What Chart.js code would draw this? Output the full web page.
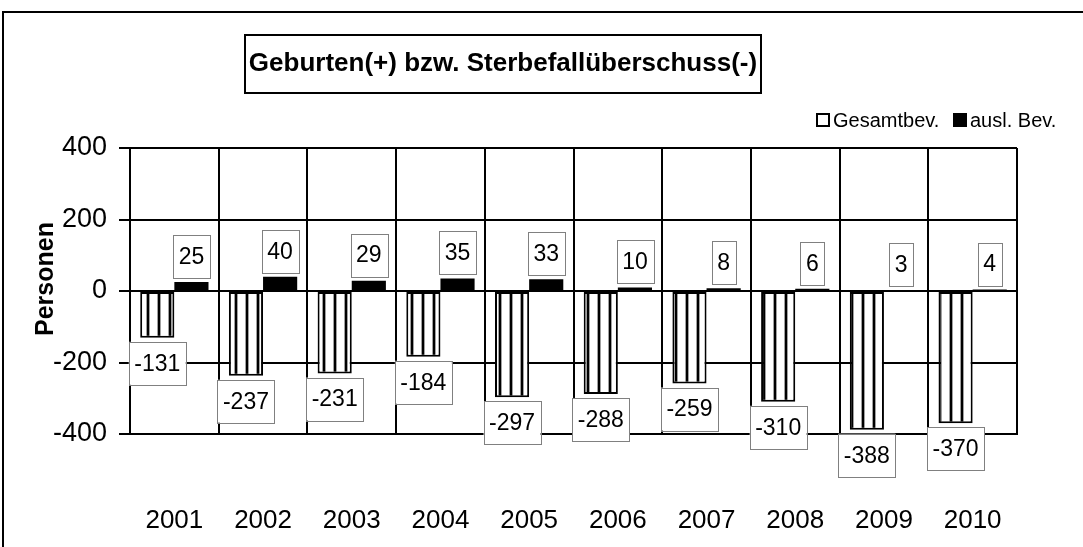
<!DOCTYPE html>
<html>
<head>
<meta charset="utf-8">
<script src="https://cdn.jsdelivr.net/npm/chart.js@4.4.1/dist/chart.umd.min.js"></script>
<style>
  html, body { margin: 0; padding: 0; background: #fff; }
  #wrap { width: 1083px; height: 547px; position: relative; }
</style>
</head>
<body>
<div id="wrap"><canvas id="c" width="1083" height="547"></canvas></div>
<script>
const categories = ['2001','2002','2003','2004','2005','2006','2007','2008','2009','2010'];
const gesamtValues = [-131, -237, -231, -184, -297, -288, -259, -310, -388, -370];
const auslValues = [25, 40, 29, 35, 33, 10, 8, 6, 3, 4];
const seriesNames = ['Gesamtbev.', 'ausl. Bev.'];
const titleText = 'Geburten(+) bzw. Sterbefallüberschuss(-)';
const yAxisTitle = 'Personen';
const yTicks = [400, 200, 0, -200, -400];

const FONT = '"Liberation Sans", Arial, sans-serif';

function stripePattern() {
  const p = document.createElement('canvas');
  p.width = 11; p.height = 4;
  const g = p.getContext('2d');
  g.fillStyle = '#ffffff';
  g.fillRect(0, 0, 11, 4);
  g.fillStyle = '#a0a0a0';
  g.fillRect(3, 0, 1, 4);
  g.fillRect(6, 0, 1, 4);
  g.fillStyle = '#000000';
  g.fillRect(4, 0, 2, 4);
  return g.createPattern(p, 'repeat');
}

const decorPlugin = {
  id: 'decor',
  beforeDraw(chart) {
    const ctx = chart.ctx;
    ctx.save();
    ctx.fillStyle = '#fff';
    ctx.fillRect(0, 0, chart.width, chart.height);
    // outer frame
    ctx.strokeStyle = '#000';
    ctx.lineWidth = 2;
    ctx.strokeRect(3, 12, chart.width + 20, chart.height + 20);
    // title box
    ctx.strokeRect(245, 35, 516, 58);
    ctx.font = 'bold 26px ' + FONT;
    ctx.fillStyle = '#000';
    ctx.textAlign = 'center';
    ctx.textBaseline = 'middle';
    ctx.fillText(titleText, 503, 64);
    // y axis title
    ctx.save();
    ctx.translate(46, 279);
    ctx.rotate(-Math.PI / 2);
    ctx.font = 'bold 25px ' + FONT;
    ctx.fillText(yAxisTitle, 0, 0);
    ctx.restore();
    // legend
    ctx.font = '20px ' + FONT;
    ctx.textAlign = 'left';
    ctx.textBaseline = 'middle';
    const items = chart.data.datasets.map((d, i) => ({ label: d.label, x: i === 0 ? 817 : 954 }));
    items.forEach((it, i) => {
      ctx.lineWidth = 2;
      if (i === 0) {
        ctx.fillStyle = '#fff';
        ctx.fillRect(it.x, 114, 12, 12);
        ctx.strokeStyle = '#000';
        ctx.strokeRect(it.x, 114, 12, 12);
      } else {
        ctx.fillStyle = '#000';
        ctx.fillRect(it.x - 1, 113, 14, 14);
      }
      ctx.fillStyle = '#000';
      ctx.fillText(it.label, it.x + 16, 121);
    });
    ctx.restore();
  },
  afterDatasetsDraw(chart) {
    const ctx = chart.ctx;
    ctx.save();
    ctx.font = '23px ' + FONT;
    ctx.textAlign = 'center';
    ctx.textBaseline = 'middle';
    chart.data.datasets.forEach((ds, di) => {
      const meta = chart.getDatasetMeta(di);
      meta.data.forEach((el, i) => {
        const v = ds.data[i];
        const txt = String(v);
        const w = ctx.measureText(txt).width + 11;
        const h = 43;
        let top;
        if (v >= 0) top = el.y - 4 - h;
        else top = el.y + 4;
        const left = el.x - w / 2;
        ctx.fillStyle = '#fff';
        ctx.fillRect(left, top, w, h);
        ctx.strokeStyle = '#808080';
        ctx.lineWidth = 1;
        ctx.strokeRect(Math.round(left) + 0.5, Math.round(top) + 0.5, Math.round(w), h);
        ctx.fillStyle = '#000';
        ctx.fillText(txt, el.x, top + h / 2 + 1);
      });
    });
    ctx.restore();
  }
};

const ctx = document.getElementById('c').getContext('2d');
new Chart(ctx, {
  type: 'bar',
  data: {
    labels: categories,
    datasets: [
      { label: seriesNames[0], data: gesamtValues, backgroundColor: stripePattern(), borderColor: '#000', borderWidth: 2, borderSkipped: false },
      { label: seriesNames[1], data: auslValues, backgroundColor: '#000', borderColor: '#000', borderWidth: 0 }
    ]
  },
  options: {
    responsive: false,
    animation: false,
    devicePixelRatio: 1,
    categoryPercentage: 0.77,
    barPercentage: 1.0,
    layout: { padding: { left: 0, top: 148, right: 66, bottom: 0 } },
    plugins: { legend: { display: false }, title: { display: false }, tooltip: { enabled: false } },
    scales: {
      x: {
        grid: { color: '#000', lineWidth: 2, drawTicks: false, offset: true },
        border: { color: '#000', width: 2 },
        ticks: { font: { family: FONT, size: 26 }, color: '#000', padding: 71, maxRotation: 0 },
        afterFit(s) { s.height = 113; }
      },
      y: {
        min: -400, max: 400,
        afterBuildTicks(s) { s.ticks = yTicks.map(v => ({ value: v })); },
        grid: { color: '#000', lineWidth: 2, tickLength: 11, drawTicks: true },
        border: { color: '#000', width: 2 },
        ticks: { font: { family: FONT, size: 27 }, color: '#000', padding: 12 },
        afterFit(s) { s.width = 130; }
      }
    }
  },
  plugins: [decorPlugin]
});
</script>
</body>
</html>
